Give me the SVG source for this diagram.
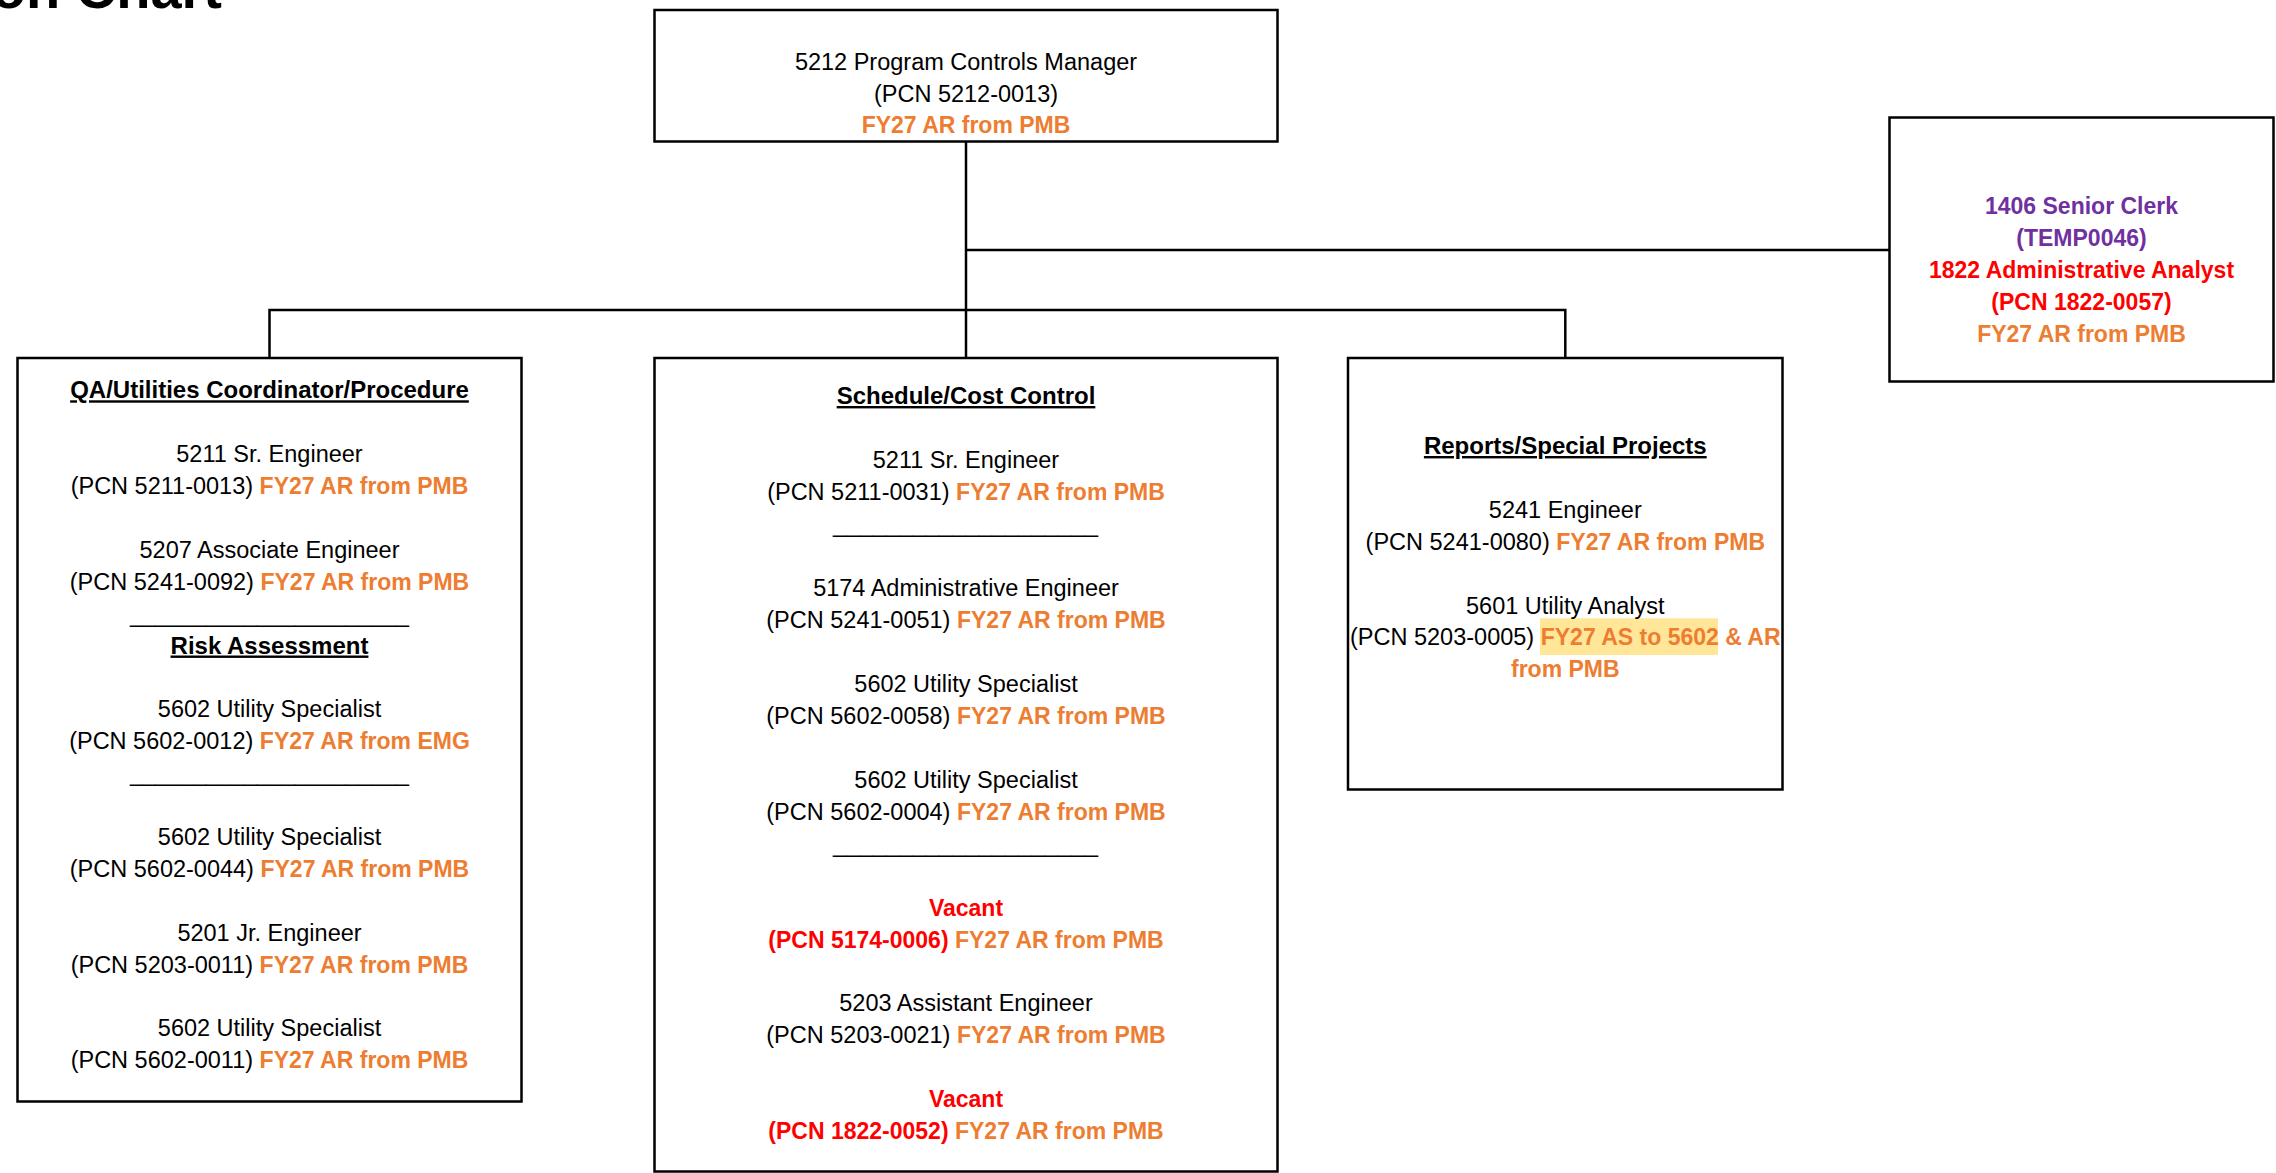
<svg xmlns="http://www.w3.org/2000/svg" width="2276" height="1173" viewBox="0 0 2276 1173">
<style>
text{font-family:"Liberation Sans",Arial,sans-serif;font-size:23.5px;fill:#000;text-anchor:middle}
.b{font-weight:bold;font-size:23px}
.h{font-weight:bold;font-size:24px;text-decoration:underline}
.o{fill:#ED7D31;font-weight:bold;font-size:23px}
.r{fill:#FF0000;font-weight:bold;font-size:23px}
.p{fill:#7030A0;font-weight:bold;font-size:23px}
.box{fill:#fff;stroke:#000;stroke-width:2.5}
.con{fill:none;stroke:#000;stroke-width:2.5}
.title{font-weight:bold;font-size:56px;text-anchor:end}
</style>
<text class="title" x="222" y="8">on Chart</text>
<g id="connectors">
<path class="con" d="M966 141.5V358"/>
<path class="con" d="M966 250H1889.5"/>
<path class="con" d="M269.5 358V310H1565.3V358"/>
</g>
<g id="pcm">
<rect class="box" x="654.5" y="10" width="623" height="131.5"/>
<text x="966" y="70">5212 Program Controls Manager</text>
<text x="966" y="101.7">(PCN 5212-0013)</text>
<text x="966" y="133.4" class="o">FY27 AR from PMB</text>
</g>
<g id="clerk">
<rect class="box" x="1889.5" y="117.5" width="384" height="264"/>
<text x="2081.5" y="214" class="p">1406 Senior Clerk</text>
<text x="2081.5" y="245.9" class="p">(TEMP0046)</text>
<text x="2081.5" y="277.8" class="r">1822 Administrative Analyst</text>
<text x="2081.5" y="309.7" class="r">(PCN 1822-0057)</text>
<text x="2081.5" y="341.6" class="o">FY27 AR from PMB</text>
</g>
<g id="qa">
<rect class="box" x="17.5" y="358" width="504" height="743.5"/>
<text x="269.5" y="398.3" class="h">QA/Utilities Coordinator/Procedure</text>
<text x="269.5" y="462.1">5211 Sr. Engineer</text>
<text x="269.5" y="494">(PCN 5211-0013) <tspan class="o">FY27 AR from PMB</tspan></text>
<text x="269.5" y="557.8">5207 Associate Engineer</text>
<text x="269.5" y="589.7">(PCN 5241-0092) <tspan class="o">FY27 AR from PMB</tspan></text>
<text x="269.5" y="621.6" textLength="279" lengthAdjust="spacingAndGlyphs">______________________</text>
<text x="269.5" y="653.5" class="h">Risk Assessment</text>
<text x="269.5" y="717.3">5602 Utility Specialist</text>
<text x="269.5" y="749.2">(PCN 5602-0012) <tspan class="o">FY27 AR from EMG</tspan></text>
<text x="269.5" y="781.1" textLength="279" lengthAdjust="spacingAndGlyphs">______________________</text>
<text x="269.5" y="844.9">5602 Utility Specialist</text>
<text x="269.5" y="876.8">(PCN 5602-0044) <tspan class="o">FY27 AR from PMB</tspan></text>
<text x="269.5" y="940.6">5201 Jr. Engineer</text>
<text x="269.5" y="972.5">(PCN 5203-0011) <tspan class="o">FY27 AR from PMB</tspan></text>
<text x="269.5" y="1036.3">5602 Utility Specialist</text>
<text x="269.5" y="1068.2">(PCN 5602-0011) <tspan class="o">FY27 AR from PMB</tspan></text>
</g>
<g id="schedule">
<rect class="box" x="654.5" y="358" width="623" height="813.5"/>
<text x="966" y="404" class="h">Schedule/Cost Control</text>
<text x="966" y="467.9">5211 Sr. Engineer</text>
<text x="966" y="499.9">(PCN 5211-0031) <tspan class="o">FY27 AR from PMB</tspan></text>
<text x="965.5" y="531.9" textLength="265" lengthAdjust="spacingAndGlyphs">____________________</text>
<text x="966" y="595.8">5174 Administrative Engineer</text>
<text x="966" y="627.8">(PCN 5241-0051) <tspan class="o">FY27 AR from PMB</tspan></text>
<text x="966" y="691.7">5602 Utility Specialist</text>
<text x="966" y="723.7">(PCN 5602-0058) <tspan class="o">FY27 AR from PMB</tspan></text>
<text x="966" y="787.6">5602 Utility Specialist</text>
<text x="966" y="819.6">(PCN 5602-0004) <tspan class="o">FY27 AR from PMB</tspan></text>
<text x="965.5" y="851.6" textLength="265" lengthAdjust="spacingAndGlyphs">____________________</text>
<text x="966" y="915.5" class="r">Vacant</text>
<text x="966" y="947.5" class="r">(PCN 5174-0006) <tspan class="o">FY27 AR from PMB</tspan></text>
<text x="966" y="1011.4">5203 Assistant Engineer</text>
<text x="966" y="1043.4">(PCN 5203-0021) <tspan class="o">FY27 AR from PMB</tspan></text>
<text x="966" y="1107.3" class="r">Vacant</text>
<text x="966" y="1139.3" class="r">(PCN 1822-0052) <tspan class="o">FY27 AR from PMB</tspan></text>
</g>
<g id="reports">
<rect class="box" x="1348" y="358" width="434.5" height="431.5"/>
<rect x="1540" y="618.3" width="178" height="36.7" fill="#FFE699"/>
<text x="1565.3" y="454" class="h">Reports/Special Projects</text>
<text x="1565.3" y="517.8">5241 Engineer</text>
<text x="1565.3" y="549.7">(PCN 5241-0080) <tspan class="o">FY27 AR from PMB</tspan></text>
<text x="1565.3" y="613.5">5601 Utility Analyst</text>
<text x="1565.3" y="645.4">(PCN 5203-0005) <tspan class="o">FY27 AS to 5602 &amp; AR</tspan></text>
<text x="1565.3" y="677.3" class="o">from PMB</text>
</g>
</svg>
